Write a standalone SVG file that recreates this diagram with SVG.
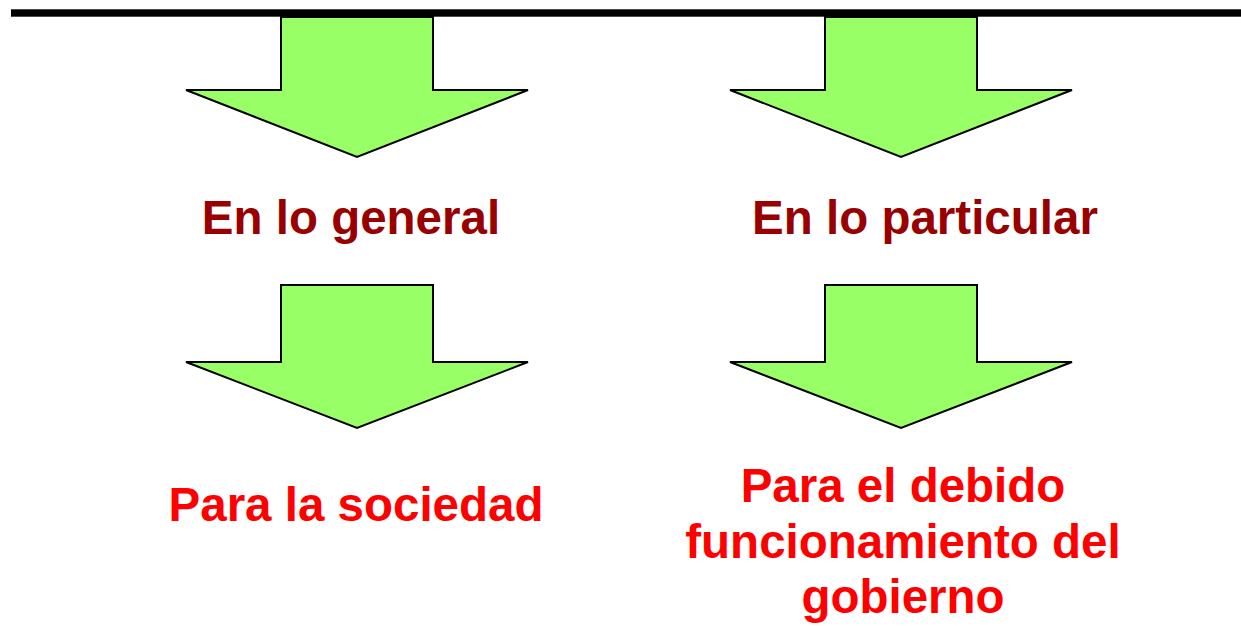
<svg xmlns="http://www.w3.org/2000/svg" width="1241" height="626" viewBox="0 0 1241 626">
<style>
.arrow{fill:#99FF66;stroke:#000;stroke-width:2;stroke-linejoin:miter}
.t{font-family:"Liberation Sans",Arial,sans-serif;font-weight:bold;font-size:47.5px;text-anchor:middle}
.dark{fill:#990000}
.red{fill:#FF0000}
</style>
<rect width="1241" height="626" fill="#fff"/>
<g id="connectors">
<g id="arrow1"><polygon class="arrow" points="281,17 433,17 433,90 528,90 357,157 186,90 281,90"/></g>
<g id="arrow2"><polygon class="arrow" points="825,17 977,17 977,90 1072,90 901,157 730,90 825,90"/></g>
<g id="arrow3"><polygon class="arrow" points="281,285 433,285 433,362 528,362 357,428 186,362 281,362"/></g>
<g id="arrow4"><polygon class="arrow" points="825,285 977,285 977,362 1072,362 901,428 730,362 825,362"/></g>
</g>
<g id="topline"><rect x="11" y="9.3" width="1230" height="7.4" fill="#000"/></g>
<g id="n-general"><text class="t dark" x="351" y="234">En lo general</text></g>
<g id="n-particular"><text class="t dark" x="925" y="234">En lo particular</text></g>
<g id="n-sociedad"><text class="t red" x="356" y="521">Para la sociedad</text></g>
<g id="n-gobierno"><text class="t red" x="903" y="502">Para el debido<tspan x="903" dy="56">funcionamiento del</tspan><tspan x="903" dy="55">gobierno</tspan></text></g>
</svg>
